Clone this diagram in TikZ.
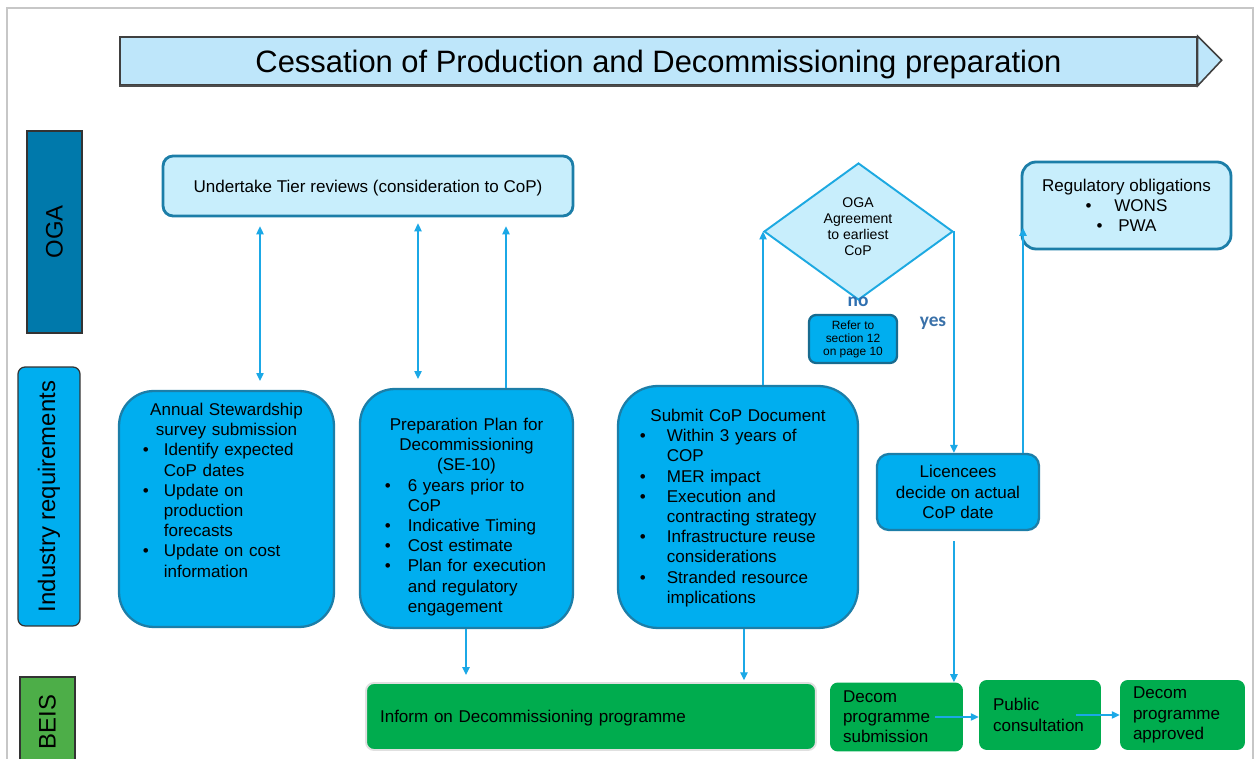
\documentclass[tikz,border=0pt]{standalone}
\usepackage{fontspec}
\setmainfont{Liberation Sans}
\newfontfamily\answerfont{Carlito}
\usetikzlibrary{
    arrows.meta,       % Modern arrow tips
    shapes.geometric   % Diamond
}

\definecolor{titlefill}{HTML}{BEE6FA}
\definecolor{lightfill}{HTML}{C8EEFC}
\definecolor{boxedge}{HTML}{1C7EA8}
\definecolor{cyanfill}{HTML}{00AEEF}
\definecolor{ogafill}{HTML}{0079AB}
\definecolor{diaedge}{HTML}{1DA9E1}
\definecolor{arrowblue}{HTML}{1BA8E6}
\definecolor{greenfill}{HTML}{00AC4E}
\definecolor{beisfill}{HTML}{4DAE48}
\definecolor{answerblue}{HTML}{2E6FB0}

\hyphenpenalty=10000
\exhyphenpenalty=10000

\newcommand{\bulletrows}[3]{\hspace*{#1}\begin{tabular}[t]{@{}p{#2}@{}l@{}}#3\end{tabular}}

\tikzset{
    lane/.style={draw=black!80, line width=0.7pt, inner sep=0pt,
        font=\fontsize{13.6}{16}\selectfont},
    titlebox/.style={draw=black!75, fill=titlefill, line width=0.9pt, inner sep=0pt},
    lightbox/.style={draw=boxedge, fill=lightfill, line width=1.6pt, inner sep=0pt,
        align=center},
    cyanbox/.style={draw=boxedge, fill=cyanfill, line width=1.3pt, inner sep=0pt,
        align=center},
    greenbox/.style={fill=greenfill, rounded corners=4.5pt, inner ysep=0pt, align=left},
    boxtext/.style={inner sep=0pt, anchor=north},
    arr/.style={draw=arrowblue, line width=0.7pt, -{Triangle[length=4.5pt,width=4.2pt]}},
    dblarr/.style={draw=arrowblue, line width=0.7pt,
        {Triangle[length=4.5pt,width=4.2pt]}-{Triangle[length=4.5pt,width=4.2pt]}},
    answer/.style={text=answerblue, font=\answerfont\bfseries\fontsize{11}{13}\selectfont}
}

\begin{document}
\begin{tikzpicture}[x=0.02cm, y=-0.02cm, font=\fontsize{9.7}{11.5}\selectfont]
    \useasboundingbox (0,0) rectangle (1259,759);
    \draw[black!22, line width=1.2pt] (7,790) -- (7,8) -- (1253,8) -- (1253,790);

    % heading
    \node[titlebox, minimum width=21.54cm, minimum height=0.96cm, text height=12.6pt,
        text depth=0pt, font=\fontsize{17.6}{21}\selectfont] (title) at (658.5,61)
        {Cessation of Production and Decommissioning preparation};
    \draw[titlebox] (title.north east) -- ++(24,24) -- (title.south east) -- cycle;
    \draw[black!70, line width=1.3pt] (title.south west) -- (title.south east);

    % lanes
    \node[lane, fill=ogafill, rotate=90, minimum width=4.04cm, minimum height=1.1cm]
        (oga) at (54.5,232) {OGA};
    \node[lane, fill=cyanfill, rounded corners=4pt, rotate=90, minimum width=5.18cm,
        minimum height=1.24cm] (ind) at (49,496.5) {Industry requirements};
    \node[lane, fill=beisfill, rotate=90, minimum width=1.8cm, minimum height=1.1cm]
        (beis) at (47.5,722) {BEIS};

    % OGA lane
    \node[lightbox, rounded corners=5.7pt, minimum width=8.2cm, minimum height=1.2cm,
        text height=6.9pt, text depth=0pt]
        (tier) at (368,186) {Undertake Tier reviews (consideration to CoP)};
    \node[diamond, draw=diaedge, fill=lightfill, line width=1.1pt, inner sep=0pt,
        minimum width=3.78cm, minimum height=2.74cm] (dia) at (858.5,231.5) {};
    \node[align=center, inner sep=0pt, font=\fontsize{8}{9.1}\selectfont]
        (diatext) at (858,227) {OGA\\Agreement\\to earliest\\CoP};
    \node[answer] (no) at (858,302) {no};
    \node[answer, text=answerblue!85!gray] (yes) at (933,323) {yes};
    \node[cyanbox, draw=boxedge!85!black, rounded corners=4pt, minimum width=1.76cm,
        minimum height=0.96cm, font=\fontsize{6.8}{7.4}\selectfont]
        (refer) at (853,339) {Refer to\\section 12\\on page 10};
    \node[lightbox, rounded corners=8pt, minimum width=4.18cm, minimum height=1.74cm]
        (reg) at (1126.5,205.5)
        {Regulatory obligations\\\textbullet\hspace{13pt}WONS\\\textbullet\hspace{9pt}PWA};

    % industry lane
    \node[cyanbox, rounded corners=19.8pt, minimum width=4.3cm, minimum height=4.72cm]
        (annual) at (226.5,509) {};
    \node[boxtext, text width=4.3cm] (annualtext) at (226.5,401)
        {{\centering\strut Annual Stewardship\\survey submission\par}
        \bulletrows{13.6pt}{11.9pt}{\textbullet & Identify expected\\ & CoP dates\\
        \textbullet & Update on\\ & production\\ & forecasts\\
        \textbullet & Update on cost\\ & information}};

    \node[cyanbox, rounded corners=19.8pt, minimum width=4.26cm, minimum height=4.78cm]
        (prep) at (466.5,508.5) {};
    \node[boxtext, text width=4.26cm] (preptext) at (466.5,416)
        {{\centering\strut Preparation Plan for\\Decommissioning\\(SE-10)\par}
        \bulletrows{14.2pt}{13pt}{\textbullet & 6 years prior to\\ & CoP\\
        \textbullet & Indicative Timing\\ \textbullet & Cost estimate\\
        \textbullet & Plan for execution\\ & and regulatory\\ & engagement}};

    \node[cyanbox, rounded corners=22.7pt, minimum width=4.8cm, minimum height=4.84cm]
        (submit) at (738,507) {};
    \node[boxtext, text width=4.8cm] (submittext) at (738,407)
        {{\centering\strut Submit CoP Document\par}
        \bulletrows{12.5pt}{15.3pt}{\textbullet & Within 3 years of\\ & COP\\
        \textbullet & MER impact\\ \textbullet & Execution and\\ & contracting strategy\\
        \textbullet & Infrastructure reuse\\ & considerations\\
        \textbullet & Stranded resource\\ & implications}};

    \node[cyanbox, rounded corners=6.8pt, minimum width=3.24cm, minimum height=1.52cm]
        (lic) at (958,492) {Licencees\\decide on actual\\CoP date};
    \coordinate (regin) at (1023,228);

    % BEIS lane
    \node[greenbox, draw=black!12, line width=1.1pt, inner xsep=7.9pt, text width=8.44cm,
        minimum width=9cm, minimum height=1.34cm, text height=6.9pt, text depth=0pt]
        (inform) at (591,716.5) {Inform on Decommissioning programme};
    \node[greenbox, inner xsep=7.4pt, text width=2.14cm, minimum width=2.66cm,
        minimum height=1.38cm] (dsub) at (896.5,717) {Decom\\programme\\submission};
    \node[greenbox, inner xsep=7.9pt, text width=1.88cm, minimum width=2.44cm,
        minimum height=1.4cm] (pub) at (1040,715) {Public\\consultation};
    \node[greenbox, inner xsep=7.4pt, text width=1.98cm, minimum width=2.5cm,
        minimum height=1.4cm] (dapp) at (1182.5,715) {Decom\\programme\\approved};

    % connectors
    \coordinate (c1) at (260,0);
    \coordinate (c2) at (418,0);
    \coordinate (c3) at (506,0);
    \coordinate (c4) at (466,0);
    \coordinate (c5) at (744,0);
    \draw[dblarr, shorten <=5.1pt, shorten >=5.1pt] (tier.south -| c1) -- (annual.north -| c1);
    \draw[dblarr, shorten <=3.4pt, shorten >=5.1pt] (tier.south -| c2) -- (prep.north -| c2);
    \draw[arr, shorten >=5.1pt] (prep.north -| c3) -- (tier.south -| c3);
    \draw[arr] (submit.north -| dia.west) -- (dia.west);
    \draw[arr] (dia.east) -- (dia.east |- lic.north);
    \draw[arr] (lic.north -| regin) -- (regin);
    \draw[arr, shorten >=4pt] (prep.south -| c4) -- (inform.north -| c4);
    \draw[arr, shorten >=1pt] (submit.south -| c5) -- (inform.north -| c5);
    \draw[arr, shorten <=5.7pt] (lic.south -| dia.east) -- (dsub.north -| dia.east);
    \draw[arr] ([xshift=-16pt]dsub.east) -- (dsub.east -| pub.west);
    \draw[arr] ([xshift=-14.7pt]pub.east) -- (dapp.west);
\end{tikzpicture}
\end{document}
